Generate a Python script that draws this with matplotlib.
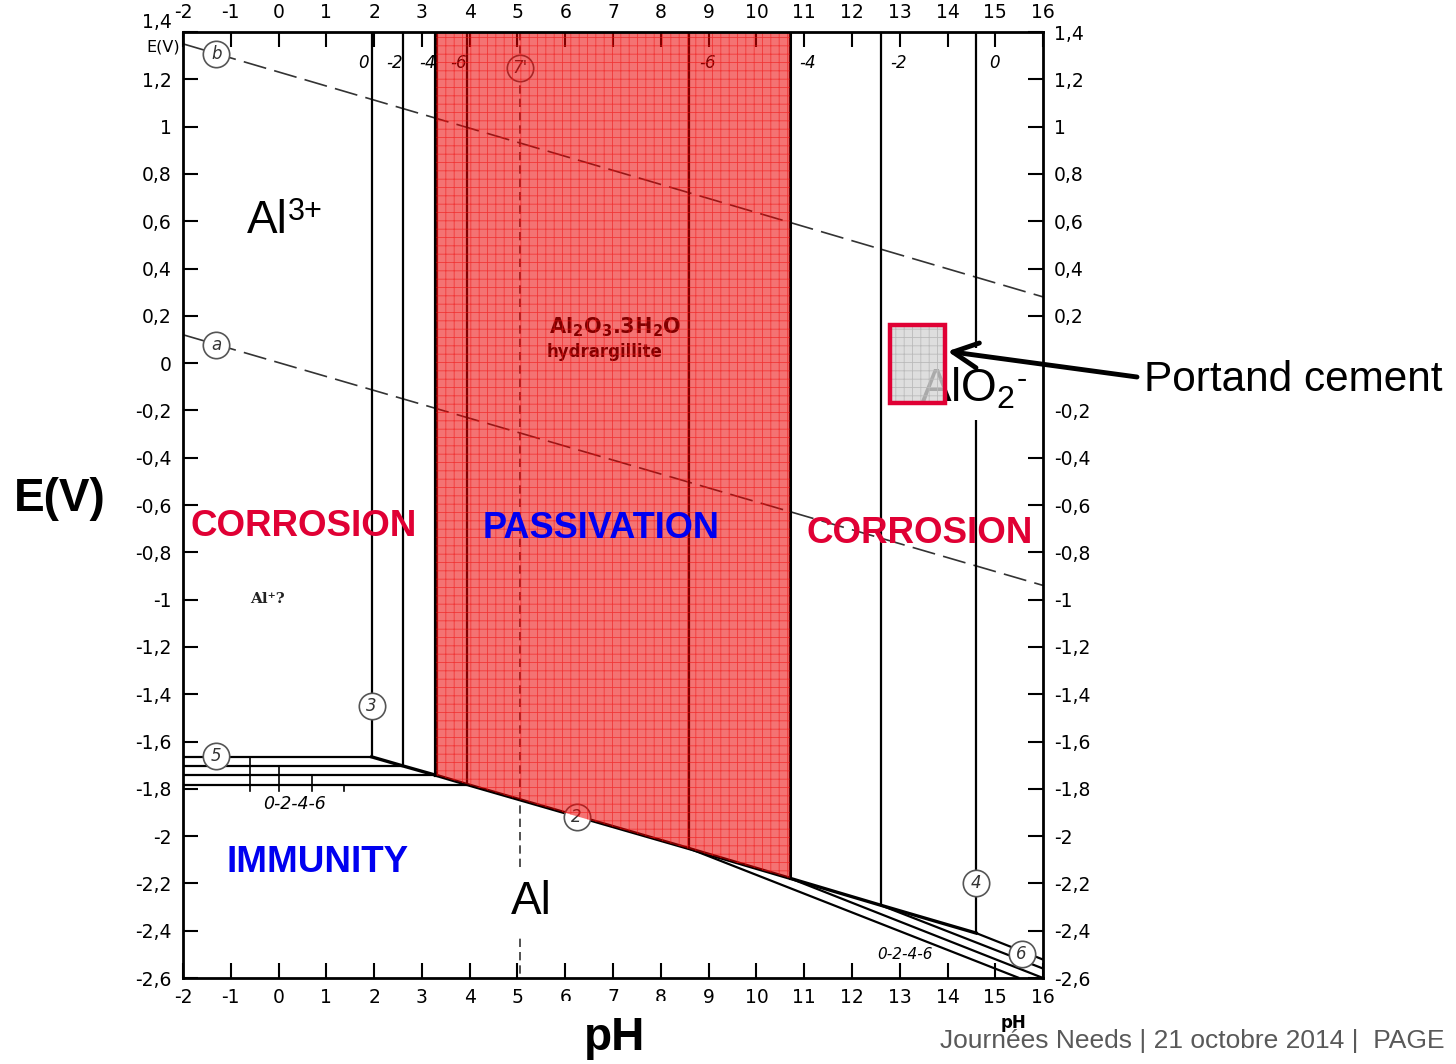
import matplotlib.pyplot as plt
from matplotlib.patches import Rectangle, Polygon, ConnectionPatch
import numpy as np

plt.rcParams['font.family'] = ['DejaVu Sans']
plt.rcParams['mathtext.default'] = 'regular'
plt.rcParams['hatch.linewidth'] = 0.6

ARIAL = ['Liberation Sans', 'DejaVu Sans']
RED = '#E00034'
BLUE = '#0000F0'

# log of the dissolved aluminium activity for each family of lines
log_conc = ['0', '-2', '-4', '-6']
# Al3+ / Al2O3.3H2O boundaries and their foot on the Al line
acid_ph = [1.95, 2.6, 3.3, 3.95]
acid_e = [-1.665, -1.703, -1.743, -1.782]
# AlO2- / Al2O3.3H2O boundaries and their foot on the Al line
alk_ph = [14.6, 12.6, 10.7, 8.6]
alk_e = [-2.41, -2.292, -2.178, -2.053]
# AlO2- / Al lines, end points
alk_end_ph = [16, 16, 16, 15.5]
alk_end_e = [-2.522, -2.56, -2.6, -2.6]

# water stability lines
water_ph = [-2, 16]
water_a = [0.12, -0.94]
water_b = [1.35, 0.28]
neutral_ph = 5.05

# little concentration scale below line 5
scale_ph = [-0.6, 0.0, 0.7, 1.37]
scale_bottom = -1.81

# numbered circles on the lines
circle_txt = ['b', 'a', "7'", '3', '5', '2', '4', '6']
circle_ph = [-1.3, -1.3, 5.05, 1.95, -1.3, 6.24, 14.6, 15.55]
circle_e = [1.305, 0.075, 1.25, -1.45, -1.662, -1.92, -2.2, -2.5]

# Portland cement pore solution domain
cement_ph = [12.8, 13.95]
cement_e = [-0.17, 0.16]

ph_ticks = list(range(-2, 17))
e_ticks = [-2.6, -2.4, -2.2, -2.0, -1.8, -1.6, -1.4, -1.2, -1.0, -0.8, -0.6,
           -0.4, -0.2, 0.0, 0.2, 0.4, 0.6, 0.8, 1.0, 1.2, 1.4]


def e_label(v):
    s = f'{v:.1f}'.replace('.', ',')
    if s.endswith(',0'):
        s = s[:-2]
    return '0' if s == '-0' else s


fig = plt.figure(figsize=(14.56, 10.64), dpi=100)
ax = fig.add_axes([0.1257, 0.0808, 0.5907, 0.8891])
ax.set_xlim(-2, 16)
ax.set_ylim(-2.6, 1.4)

ax.set_xticks(ph_ticks, labels=[str(v) for v in ph_ticks])
ax.set_yticks(e_ticks, labels=[e_label(v) for v in e_ticks])
ax.tick_params(direction='in', length=11, width=1.5, labelsize=13.5, pad=7,
               top=True, right=True, labeltop=True, labelright=True)
ax.tick_params(axis='y', labelright=True, pad=8)
# top left 1,4 sits above the corner, E(V) goes under it
top_tick = ax.yaxis.get_major_ticks()[-1]
top_tick.label1.set_verticalalignment('bottom')
for s in ax.spines.values():
    s.set_linewidth(2)

line_kw = dict(color='black', lw=1.6, solid_capstyle='butt', zorder=2)

# line 5 (Al3+/Al) and the acid boundaries (line 3)
for i in range(4):
    ax.plot([-2, acid_ph[i]], [acid_e[i], acid_e[i]], **line_kw)
    ax.plot([acid_ph[i], acid_ph[i]], [1.4, acid_e[i]], **line_kw)
    ax.plot([scale_ph[i], scale_ph[i]], [acid_e[i], scale_bottom], color='black', lw=1.2)
    ax.text(acid_ph[i] - 0.18, 1.27, log_conc[i], fontsize=12, style='italic',
            ha='center', va='center', zorder=2.1)

# alkaline boundaries (line 4) and AlO2-/Al lines (line 6)
for i in range(4):
    ax.plot([alk_ph[i], alk_ph[i]], [1.4, alk_e[i]], **line_kw)
    ax.plot([alk_ph[i], alk_end_ph[i]], [alk_e[i], alk_end_e[i]], **line_kw)
    ax.text(alk_ph[i] + 0.38, 1.27, log_conc[i], fontsize=12, style='italic',
            ha='center', va='center', zorder=2.1)

# line 2, Al2O3.3H2O / Al
ax.plot(acid_ph + alk_ph[::-1], acid_e + alk_e[::-1], color='black', lw=2.4, zorder=2)
ax.plot([acid_ph[2], acid_ph[2]], [1.4, acid_e[2]], color='black', lw=3, zorder=2)
ax.plot([alk_ph[2], alk_ph[2]], [1.4, alk_e[2]], color='black', lw=2.2, zorder=2)

# water lines and neutrality
ax.plot(water_ph, water_a, color='#333333', lw=1.2, ls=(0, (14, 5)), zorder=1.8)
ax.plot(water_ph, water_b, color='#333333', lw=1.2, ls=(0, (14, 5)), zorder=1.8)
ax.plot([neutral_ph, neutral_ph], [1.4, -2.6], color='#333333', lw=1.2,
        ls=(0, (5, 3)), zorder=1.8)

ax.text(0.34, -1.864, '0-2-4-6', fontsize=12.5, style='italic', ha='center', va='center')
ax.text(13.1, -2.5, '0-2-4-6', fontsize=11, style='italic', ha='center', va='center')
ax.text(-0.24, -0.997, 'Al⁺?', family='DejaVu Serif', fontsize=11, weight='bold',
        ha='center', va='center', color='#222222')

ax.text(7.04, 0.15, r'Al$_2$O$_3$.3H$_2$O', fontsize=15, weight='bold',
        ha='center', va='center', zorder=2.1)
ax.text(6.83, 0.045, 'hydrargillite', fontsize=12, weight='bold',
        ha='center', va='center', zorder=2.1)

for t, x, y in zip(circle_txt, circle_ph, circle_e):
    ax.plot(x, y, 'o', ms=19, mfc='white', mec='#555555', mew=1.2, zorder=2.05)
    ax.text(x, y, t, fontsize=12, style='italic', ha='center', va='center',
            color='#333333', zorder=2.1)

# passivation domain
passiv = [(acid_ph[2], 1.4), (alk_ph[2], 1.4), (alk_ph[2], alk_e[2]), (acid_ph[2], acid_e[2])]
ax.add_patch(Polygon(passiv, closed=True, facecolor=(0.92, 0, 0), alpha=0.55, lw=0, zorder=2.2))
ax.add_patch(Polygon(passiv, closed=True, facecolor='none', edgecolor='#F01010',
                     hatch='++', lw=0, alpha=0.6, zorder=2.25))

# white label box behind AlO2-
ax.add_patch(Rectangle((13.0, -0.24), 3.0, 0.305, facecolor='white', lw=0, zorder=2.3))

ax.text(-0.66, 0.60, 'Al', family=ARIAL, fontsize=33, ha='left', va='center', zorder=3)
ax.text(0.19, 0.64, '3+', family=ARIAL, fontsize=22, ha='left', va='center', zorder=3)
ax.text(13.42, -0.11, r'AlO$_2$', family=ARIAL, fontsize=33, ha='left', va='center', zorder=3)
ax.text(15.55, -0.07, '-', family=ARIAL, fontsize=22, ha='center', va='center', zorder=3)
ax.text(5.28, -2.28, 'Al', family=ARIAL, fontsize=33, ha='center', va='center', zorder=3,
        bbox=dict(facecolor='white', edgecolor='none', pad=10))
ax.text(0.53, -0.69, 'CORROSION', family=ARIAL, fontsize=26.5, weight='bold', color=RED,
        ha='center', va='center', zorder=3)
ax.text(13.42, -0.72, 'CORROSION', family=ARIAL, fontsize=26.5, weight='bold', color=RED,
        ha='center', va='center', zorder=3)
ax.text(6.74, -0.70, 'PASSIVATION', family=ARIAL, fontsize=26, weight='bold', color=BLUE,
        ha='center', va='center', zorder=3)
ax.text(0.82, -2.11, 'IMMUNITY', family=ARIAL, fontsize=26.5, weight='bold', color=BLUE,
        ha='center', va='center', zorder=3)

# Portland cement box
cw = cement_ph[1] - cement_ph[0]
ch = cement_e[1] - cement_e[0]
ax.add_patch(Rectangle((cement_ph[0], cement_e[0]), cw, ch, facecolor='#D6D6D6',
                       alpha=0.8, lw=0, zorder=4))
ax.add_patch(Rectangle((cement_ph[0], cement_e[0]), cw, ch, facecolor='none',
                       edgecolor='#BBBBBB', hatch='++', lw=0, zorder=4.1))
ax.add_patch(Rectangle((cement_ph[0], cement_e[0]), cw, ch, facecolor='none',
                       edgecolor=RED, lw=3.2, zorder=4.2))

ax.text(-0.023, 0.984, 'E(V)', transform=ax.transAxes, fontsize=11.5,
        ha='center', va='center')

# slide level texts
fig.add_artist(Rectangle((1048 / 1456, 1 - 402 / 1064), 408 / 1456, 46 / 1064,
                         transform=fig.transFigure, facecolor='white', lw=0, zorder=3))
fig.add_artist(Rectangle((562 / 1456, 0), 106 / 1456, 63 / 1064,
                         transform=fig.transFigure, facecolor='white', lw=0, zorder=3))
fig.text(0.786, 0.643, 'Portand cement', family=ARIAL, fontsize=30.5, va='center', zorder=5)
arrow = ConnectionPatch(xyA=(1137 / 1456, 1 - 377 / 1064), coordsA='figure fraction',
                        xyB=(cement_ph[1] + 0.05, 0.05), coordsB=ax.transData,
                        arrowstyle='->,head_length=0.9,head_width=0.45', lw=3.5,
                        color='black', mutation_scale=20, zorder=6)
fig.add_artist(arrow)

fig.text(0.041, 0.531, 'E(V)', family=ARIAL, fontsize=33, weight='bold',
         ha='center', va='center', zorder=5)
fig.text(0.422, 0.024, 'pH', family=ARIAL, fontsize=33, weight='bold',
         ha='center', va='center', zorder=5)
fig.text(0.696, 0.039, 'pH', fontsize=12, weight='bold', ha='center', va='center', zorder=4)
fig.text(0.6456, 0.015, 'Journées Needs | 21 octobre 2014 |  PAGE', family=ARIAL,
         fontsize=19, color='#595959', ha='left', va='baseline', zorder=5)

fig.savefig('out.png', dpi=100)
